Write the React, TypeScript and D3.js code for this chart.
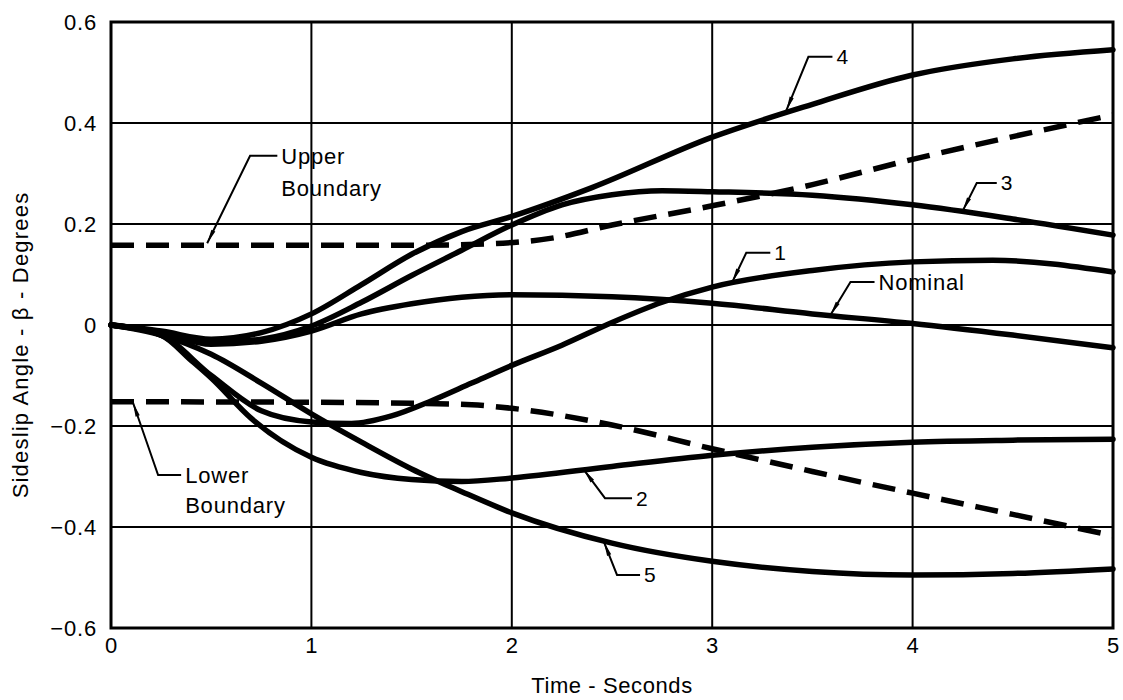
import React from "react";
import * as d3 from "d3";

// ---- data (time in seconds, sideslip angle in degrees) ----
const xTicks = [0, 1, 2, 3, 4, 5];
const yTicks = [-0.6, -0.4, -0.2, 0, 0.2, 0.4, 0.6];

const upperBoundary: [number, number][] = [
  [0, 0.158], [1, 0.158], [1.5, 0.158], [1.9, 0.161], [2.2, 0.172], [2.5, 0.198],
  [3, 0.236], [3.5, 0.278], [4, 0.328], [4.5, 0.373], [5, 0.416],
];
const lowerBoundary: [number, number][] = [
  [0, -0.152], [1, -0.153], [1.5, -0.155], [1.8, -0.158], [2, -0.165], [2.5, -0.198],
  [3, -0.245], [3.5, -0.29], [4, -0.333], [4.5, -0.375], [5, -0.417],
];
const case4: [number, number][] = [
  [0, 0], [0.25, -0.012], [0.5, -0.028], [0.75, -0.015], [1, 0.022], [1.25, 0.08],
  [1.5, 0.14], [1.75, 0.185], [2, 0.215], [2.4, 0.272], [3, 0.372], [3.5, 0.437],
  [4, 0.495], [4.5, 0.527], [5, 0.545],
];
const case3: [number, number][] = [
  [0, 0], [0.25, -0.015], [0.5, -0.035], [0.75, -0.028], [1, -0.002], [1.25, 0.045],
  [1.5, 0.098], [1.75, 0.148], [2, 0.198], [2.25, 0.238], [2.5, 0.258], [2.75, 0.266],
  [3, 0.264], [3.5, 0.257], [4, 0.238], [4.5, 0.21], [5, 0.178],
];
const nominal: [number, number][] = [
  [0, 0], [0.25, -0.015], [0.5, -0.038], [0.75, -0.032], [1, -0.012], [1.25, 0.022],
  [1.5, 0.042], [1.75, 0.055], [2, 0.06], [2.5, 0.056], [3, 0.043], [3.5, 0.022],
  [4, 0.003], [4.5, -0.02], [5, -0.045],
];
const case1: [number, number][] = [
  [0, 0], [0.25, -0.02], [0.5, -0.1], [0.75, -0.17], [1, -0.192], [1.2, -0.195],
  [1.4, -0.18], [1.6, -0.15], [1.8, -0.115], [2, -0.08], [2.25, -0.04], [2.5, 0.005],
  [2.75, 0.045], [3, 0.075], [3.5, 0.108], [4, 0.125], [4.4, 0.128], [5, 0.105],
];
const case2: [number, number][] = [
  [0, 0], [0.25, -0.02], [0.4, -0.07], [0.5, -0.105], [0.7, -0.185], [1, -0.262],
  [1.25, -0.292], [1.5, -0.306], [1.75, -0.31], [2, -0.303], [2.5, -0.28], [3, -0.258],
  [3.5, -0.242], [4, -0.232], [4.5, -0.228], [5, -0.226],
];
const case5: [number, number][] = [
  [0, 0], [0.25, -0.02], [0.5, -0.058], [0.75, -0.115], [1, -0.176], [1.25, -0.232],
  [1.5, -0.285], [1.75, -0.33], [2, -0.372], [2.5, -0.432], [3, -0.468], [3.5, -0.488],
  [4, -0.495], [4.5, -0.492], [5, -0.483],
];

const solidSeries = [case4, case3, nominal, case1, case2, case5];
const dashedSeries = [upperBoundary, lowerBoundary];

// annotation leaders: tip on curve -> elbow -> end of horizontal; text lines after end
type Note = { lines: string[]; tip: [number, number]; elbow: [number, number]; endX: number; lineYs: number[]; size: number };
const notes: Note[] = [
  { lines: ["4"], tip: [3.37, 0.425], elbow: [3.48, 0.531], endX: 3.6, lineYs: [0.531], size: 21 },
  { lines: ["3"], tip: [4.25, 0.226], elbow: [4.32, 0.281], endX: 4.42, lineYs: [0.281], size: 21 },
  { lines: ["1"], tip: [3.1, 0.085], elbow: [3.17, 0.143], endX: 3.29, lineYs: [0.143], size: 21 },
  { lines: ["Nominal"], tip: [3.59, 0.02], elbow: [3.69, 0.085], endX: 3.81, lineYs: [0.085], size: 22 },
  { lines: ["2"], tip: [2.36, -0.287], elbow: [2.465, -0.343], endX: 2.6, lineYs: [-0.343], size: 21 },
  { lines: ["5"], tip: [2.46, -0.43], elbow: [2.525, -0.495], endX: 2.64, lineYs: [-0.495], size: 21 },
  { lines: ["Upper", "Boundary"], tip: [0.48, 0.162], elbow: [0.694, 0.335], endX: 0.83, lineYs: [0.335, 0.27], size: 22 },
  { lines: ["Lower", "Boundary"], tip: [0.11, -0.154], elbow: [0.235, -0.297], endX: 0.35, lineYs: [-0.297, -0.358], size: 22 },
];

const W = 1123;
const H = 700;
const M = { left: 111, right: 10, top: 22, bottom: 72 };
const FONT = "'Liberation Sans', Arial, Helvetica, sans-serif";

export default function App() {
  const x = d3.scaleLinear().domain([0, 5]).range([M.left, W - M.right]);
  const y = d3.scaleLinear().domain([-0.6, 0.6]).range([H - M.bottom, M.top]);
  const line = d3
    .line<[number, number]>()
    .x((d) => x(d[0]))
    .y((d) => y(d[1]))
    .curve(d3.curveMonotoneX);
  const fmt = (v: number) => (v === 0 ? "0" : d3.format(".1f")(v).replace("-", "\u2212"));

  return (
    <svg
      width={W}
      height={H}
      style={{ position: "absolute", left: 0, top: 0, background: "#fff" }}
      fontFamily={FONT}
    >
      <rect x={0} y={0} width={W} height={H} fill="#fff" />
      {/* grid */}
      {yTicks.slice(1, -1).map((t) => (
        <line key={"gy" + t} x1={x(0)} x2={x(5)} y1={y(t)} y2={y(t)} stroke="#000" strokeWidth={2} />
      ))}
      {xTicks.slice(1, -1).map((t) => (
        <line key={"gx" + t} x1={x(t)} x2={x(t)} y1={y(-0.6)} y2={y(0.6)} stroke="#000" strokeWidth={2} />
      ))}
      {/* frame */}
      <rect x={x(0)} y={y(0.6)} width={x(5) - x(0)} height={y(-0.6) - y(0.6)} fill="none" stroke="#000" strokeWidth={3} />

      {/* boundaries */}
      {dashedSeries.map((s, i) => (
        <path key={"d" + i} d={line(s) || ""} fill="none" stroke="#000" strokeWidth={5.5} strokeDasharray="23 12" />
      ))}
      {/* cases */}
      {solidSeries.map((s, i) => (
        <path key={"s" + i} d={line(s) || ""} fill="none" stroke="#000" strokeWidth={5.5} strokeLinecap="round" />
      ))}

      {/* annotations */}
      {notes.map((n, i) => {
        const tx = x(n.tip[0]);
        const ty = y(n.tip[1]);
        const ex = x(n.elbow[0]);
        const ey = y(n.elbow[1]);
        const ang = Math.atan2(ey - ty, ex - tx);
        const L = 14;
        const wd = 2.2;
        const bx = tx + Math.cos(ang) * L;
        const by = ty + Math.sin(ang) * L;
        const px = -Math.sin(ang) * wd;
        const py = Math.cos(ang) * wd;
        return (
          <g key={"n" + i}>
            <polyline
              points={`${tx},${ty} ${ex},${ey} ${x(n.endX)},${ey}`}
              fill="none"
              stroke="#000"
              strokeWidth={2}
            />
            <polygon points={`${tx},${ty} ${bx + px},${by + py} ${bx - px},${by - py}`} fill="#000" />
            {n.lines.map((t, j) => (
              <text
                key={j}
                x={x(n.endX) + 4}
                y={y(n.lineYs[j])}
                dy="0.35em"
                fontSize={n.size}
                letterSpacing={0.8}
                fill="#000"
              >
                {t}
              </text>
            ))}
          </g>
        );
      })}

      {/* y tick labels */}
      {yTicks.map((t) => (
        <text key={"yt" + t} x={x(0) - 14} y={y(t)} dy="0.36em" textAnchor="end" fontSize={22} letterSpacing={0.8} fill="#000">
          {fmt(t)}
        </text>
      ))}
      {/* x tick labels */}
      {xTicks.map((t) => (
        <text key={"xt" + t} x={x(t)} y={y(-0.6) + 25} textAnchor="middle" fontSize={22} fill="#000">
          {t}
        </text>
      ))}
      {/* axis titles */}
      <text x={(x(0) + x(5)) / 2} y={693} textAnchor="middle" fontSize={22} letterSpacing={0.6} fill="#000">
        Time - Seconds
      </text>
      <text
        transform={`translate(28, ${y(0) + 20}) rotate(-90)`}
        textAnchor="middle"
        fontSize={22}
        letterSpacing={1.2}
        fill="#000"
      >
        Sideslip Angle - β - Degrees
      </text>
    </svg>
  );
}
